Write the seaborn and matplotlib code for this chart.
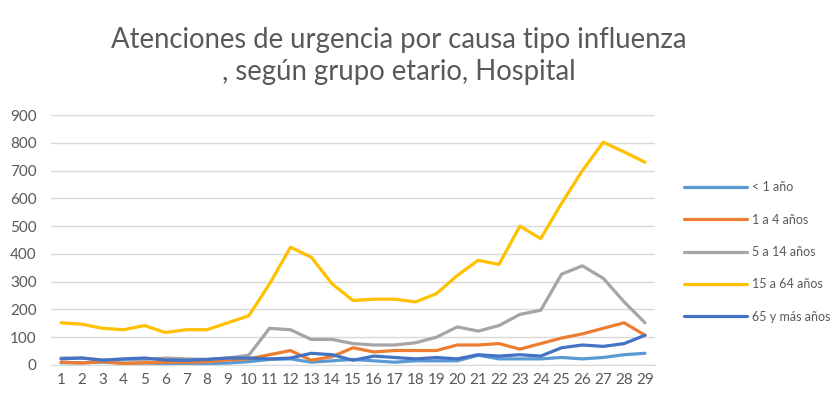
import numpy as np
import pandas as pd
import matplotlib
matplotlib.use("Agg")
import matplotlib.pyplot as plt
import seaborn as sns

# -------------------------------
# Data
# -------------------------------
semanas = list(range(1, 30))

menor_1 = [8, 8, 10, 7, 7, 5, 3, 5, 7, 12, 20, 22, 10, 15, 20, 15, 10, 15, 15, 15,
           35, 22, 22, 22, 27, 22, 27, 37, 42]
de_1_a_4 = [10, 7, 12, 5, 8, 10, 10, 12, 18, 22, 37, 52, 17, 30, 62, 47, 52, 52, 52, 72,
            72, 77, 57, 77, 97, 112, 132, 152, 107]
de_5_a_14 = [25, 25, 18, 20, 20, 25, 22, 20, 25, 35, 132, 127, 92, 92, 77, 72, 72, 80, 100, 137,
             122, 142, 182, 197, 327, 357, 312, 227, 152]
de_15_a_64 = [152, 147, 132, 127, 142, 117, 127, 127, 152, 177, 292, 424, 388, 292, 232, 237, 237, 227, 257, 322,
              377, 362, 500, 455, 582, 700, 802, 767, 730]
mayor_65 = [22, 25, 17, 22, 25, 18, 17, 20, 25, 25, 22, 25, 42, 37, 17, 32, 27, 22, 27, 22,
            37, 32, 37, 32, 62, 72, 67, 77, 107]

grupos = ["< 1 año", "1 a 4 años", "5 a 14 años", "15 a 64 años", "65 y más años"]
colores = ["#5B9BD5", "#ED7D31", "#A5A5A5", "#FFC000", "#4472C4"]

df = pd.DataFrame({
    "Semana": semanas * 5,
    "Atenciones": menor_1 + de_1_a_4 + de_5_a_14 + de_15_a_64 + mayor_65,
    "Grupo": sum([[g] * len(semanas) for g in grupos], []),
})

# -------------------------------
# Plot
# -------------------------------
sns.set_style("white")
plt.rcParams['font.family'] = ['Lato', 'DejaVu Sans']
gris = "#595959"

fig = plt.figure(figsize=(8.36, 4.05), dpi=100)
ax = fig.add_axes([0.0605, 0.0988, 0.7235, 0.6172])

sns.lineplot(data=df, x="Semana", y="Atenciones", hue="Grupo", hue_order=grupos,
             palette=colores, linewidth=2.3, ax=ax)

ax.set_xlim(0.5, 29.5)
ax.set_ylim(0, 900)
ax.set_xticks(semanas)
ax.set_yticks(range(0, 901, 100))
ax.tick_params(axis="both", length=0, labelsize=11, colors=gris, pad=6)
ax.tick_params(axis="y", pad=10)
ax.grid(axis="y", color="#D9D9D9", linewidth=1)
ax.set_axisbelow(True)
for s in ["top", "right", "left"]:
    ax.spines[s].set_visible(False)
ax.spines["bottom"].set_color("#D9D9D9")
ax.set_xlabel("")
ax.set_ylabel("")

leg = ax.legend(loc="upper left", bbox_to_anchor=(0.805, 0.58), bbox_transform=fig.transFigure,
                frameon=False, fontsize=9, handlelength=5.0, handletextpad=0.4,
                labelspacing=1.63, labelcolor=gris)

fig.text(0.477, 0.902, "Atenciones de urgencia por causa tipo influenza",
         ha="center", va="center", fontsize=19.8, color=gris)
fig.text(0.477, 0.822, ", según grupo etario, Hospital",
         ha="center", va="center", fontsize=19.8, color=gris)

fig.savefig("out.png", dpi=100, facecolor="white")
